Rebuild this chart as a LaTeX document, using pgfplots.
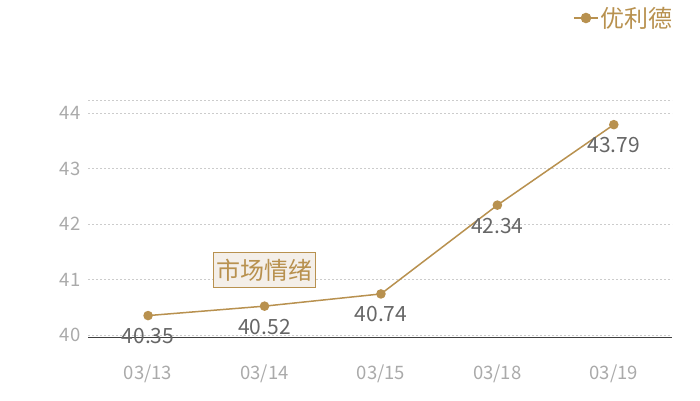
\documentclass[border=0pt]{standalone}
\usepackage{fontspec}
\setmainfont{Noto Sans CJK SC}
\usepackage{pgfplots}
\pgfplotsset{compat=1.18}
\definecolor{gold}{HTML}{B8914F}
\definecolor{tickgray}{HTML}{AAAAAA}
\definecolor{labgray}{HTML}{666666}
\definecolor{boxfill}{HTML}{F4EFE9}
\begin{document}
\begin{tikzpicture}
\useasboundingbox (0,0) rectangle (700pt,400pt);
\begin{axis}[
  at={(88pt,63pt)}, anchor=south west,
  scale only axis, width=584pt, height=237pt,
  xmin=-0.516, xmax=4.5, ymin=39.964, ymax=44.234,
  xtick={0,1,2,3,4}, xticklabels={03/13,03/14,03/15,03/18,03/19},
  ytick={40,41,42,43,44},
  axis line style={draw=none},
  major tick length=0pt,
  ymajorgrids,
  grid style={draw=black!20, line width=0.6pt, dash pattern=on 2pt off 2pt},
  /pgf/number format/assume math mode=true,
  ticklabel style={font=\fontsize{18.5}{20}\selectfont, text=tickgray},
  xticklabel style={yshift=-24pt},
  yticklabel style={xshift=-4pt},
  clip=false,
  legend style={draw=none, fill=none, at={(1.005,1.346)}, anchor=east,
    font=\fontsize{24}{26}\selectfont, text=gold, inner sep=0pt},
  legend image code/.code={
    \draw[gold, line width=1.5pt] (-2pt,0pt) -- (22pt,0pt);
    \fill[gold] (10pt,0pt) circle (4.5pt);},
]
\draw[black!75, line width=0.9pt] (rel axis cs:0,0) -- (rel axis cs:1,0);
\draw[black!20, line width=0.6pt, dash pattern=on 2pt off 2pt] (rel axis cs:0,1) -- (rel axis cs:1,1);
\addplot[color=gold, line width=1.5pt, mark=*, mark size=4pt,
  mark options={fill=gold, draw=gold},
  point meta=explicit symbolic,
  nodes near coords,
  nodes near coords style={anchor=north, yshift=-12pt, inner sep=0pt,
    text=labgray, font=\fontsize{21}{23}\selectfont}]
  coordinates {(0,40.35)[40.35] (1,40.52)[40.52] (2,40.74)[40.74] (3,42.34)[42.34] (4,43.79)[43.79]};
\addlegendentry{优利德}
\node[fill=boxfill, draw=gold, line width=1pt, text=gold, inner sep=0pt,
  minimum width=102pt, minimum height=35pt,
  font=\fontsize{24}{25}\selectfont] at (axis cs:1,41.17) {市场情绪};
\end{axis}
\end{tikzpicture}
\end{document}
